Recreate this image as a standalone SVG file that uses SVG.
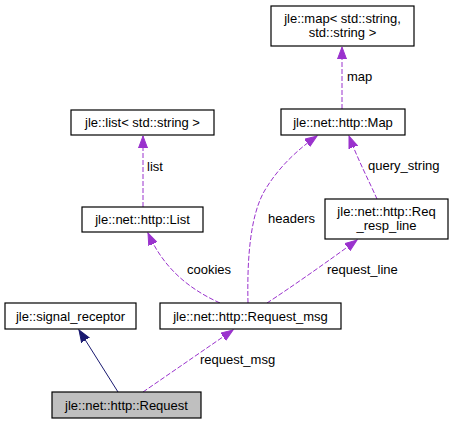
<svg xmlns="http://www.w3.org/2000/svg" width="453" height="424" viewBox="0 0 453 424">
<defs>
<style>
.node rect{fill:#ffffff;stroke:#000000;stroke-width:1.2}
.node.cur rect{fill:#bfbfbf}
text{font-family:"Liberation Sans",Arial,sans-serif;font-size:13px;fill:#000000}
.node text{text-anchor:middle}
.use{fill:none;stroke:#9a32cd;stroke-width:1;stroke-dasharray:5,2}
.inh{fill:none;stroke:#191970;stroke-width:1}
</style>
<marker id="ap" markerWidth="14" markerHeight="10" refX="12" refY="5" orient="auto" markerUnits="userSpaceOnUse">
<polygon points="0,0.5 12,5 0,9.5" fill="#9a32cd" stroke="#9a32cd" stroke-width="1"/>
</marker>
<marker id="an" markerWidth="14" markerHeight="10" refX="12" refY="5" orient="auto" markerUnits="userSpaceOnUse">
<polygon points="0,0.5 12,5 0,9.5" fill="#191970" stroke="#191970" stroke-width="1"/>
</marker>
</defs>
<rect width="453" height="424" fill="#ffffff"/>
<g id="edges">
<path class="use" d="M342,109 L342,47" marker-end="url(#ap)"/>
<path class="use" d="M143,207 L143,136" marker-end="url(#ap)"/>
<path class="use" d="M377,199 C370,183 358,160 349,136" marker-end="url(#ap)"/>
<path class="use" d="M248,303 C247,260 250,215 265,190 C280,165 300,148 317,136" marker-end="url(#ap)"/>
<path class="use" d="M220,303 C180,285 160,260 148,233" marker-end="url(#ap)"/>
<path class="use" d="M267,303 C290,288 330,260 357,240" marker-end="url(#ap)"/>
<path class="use" d="M143,392 L233,330" marker-end="url(#ap)"/>
<path class="inh" d="M118,392 L79,330" marker-end="url(#an)"/>
<text x="347" y="81">map</text>
<text x="147" y="171">list</text>
<text x="368" y="170">query_string</text>
<text x="268" y="223">headers</text>
<text x="187" y="274">cookies</text>
<text x="327" y="274">request_line</text>
<text x="200" y="364">request_msg</text>
</g>
<g id="node_map" class="node">
<rect x="271" y="6" width="143" height="40"/>
<text x="342.5" y="23">jle::map&lt; std::string,</text>
<text x="342.5" y="37">std::string &gt;</text>
</g>
<g id="node_Map" class="node">
<rect x="281" y="109" width="124" height="26"/>
<text x="343" y="126.5">jle::net::http::Map</text>
</g>
<g id="node_list" class="node">
<rect x="71" y="110" width="143" height="25"/>
<text x="142.5" y="127">jle::list&lt; std::string &gt;</text>
</g>
<g id="node_List" class="node">
<rect x="82" y="207" width="121" height="25"/>
<text x="142.5" y="224">jle::net::http::List</text>
</g>
<g id="node_ReqResp" class="node">
<rect x="325" y="199" width="123" height="40"/>
<text x="386.5" y="216">jle::net::http::Req</text>
<text x="386.5" y="230">_resp_line</text>
</g>
<g id="node_signal" class="node">
<rect x="5" y="303" width="131" height="26"/>
<text x="70.5" y="320.5">jle::signal_receptor</text>
</g>
<g id="node_RequestMsg" class="node">
<rect x="160" y="303" width="181" height="26"/>
<text x="250.5" y="320.5">jle::net::http::Request_msg</text>
</g>
<g id="node_Request" class="node cur">
<rect x="52" y="392" width="149" height="26"/>
<text x="126.5" y="409.5">jle::net::http::Request</text>
</g>
</svg>
